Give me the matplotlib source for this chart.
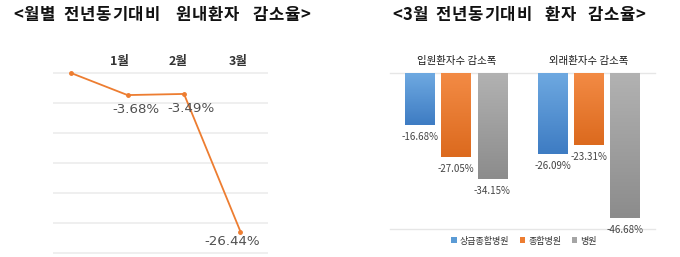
import matplotlib
matplotlib.use("Agg")
import matplotlib.pyplot as plt
import numpy as np
from matplotlib.patches import Patch
from matplotlib.colors import LinearSegmentedColormap

plt.rcParams['font.family'] = ['Noto Sans CJK KR', 'DejaVu Sans']

# Left chart data
line_x_labels = ["", "1월", "2월", "3월"]
line_values = [0.0, -3.68, -3.49, -26.44]
line_labels = ["", "-3.68%", "-3.49%", "-26.44%"]

# Right chart data
groups = ["입원환자수 감소폭", "외래환자수 감소폭"]
series_names = ["상급종합병원", "종합병원", "병원"]
series_values = {
    "상급종합병원": [-16.68, -26.09],
    "종합병원": [-27.05, -23.31],
    "병원": [-34.15, -46.68],
}
series_colors = ["#5B9BD5", "#ED7D31", "#A5A5A5"]
grad_top = ["#6EA9E1", "#F38B45", "#B2B2B2"]
grad_bot = ["#3E7CC3", "#DC6A1E", "#8C8C8C"]

left_title_words = ["<월별", "전년동기대비", "원내환자", "감소율>"]
right_title_words = ["<3월", "전년동기대비", "환자", "감소율>"]

W, H = 680, 257
fig = plt.figure(figsize=(W / 100, H / 100), dpi=100)
fig.patch.set_facecolor("white")

def ax_rect(x0, x1, y0, y1):
    return [x0 / W, 1 - y1 / H, (x1 - x0) / W, (y1 - y0) / H]

def spaced_word(word, x_start, y, size=12):
    # draw a word with wide letter spacing like the reference font
    x = x_start
    for ch in word:
        adv = 16.2 if ord(ch) > 0x1000 else 10.0
        fig.text((x + adv / 2) / W, 1 - y / H, ch, fontsize=size, fontweight="bold",
                 color="#111111", ha="center", va="center")
        x += adv

for word, xp in zip(left_title_words, [13, 63, 175, 252]):
    spaced_word(word, xp, 15)
for word, xp in zip(right_title_words, [392, 435, 544, 587]):
    spaced_word(word, xp, 15)

# ---- Left line chart ----
ax1 = fig.add_axes(ax_rect(53, 268, 70, 256))
xs = list(range(len(line_values)))
ax1.set_xlim(-0.319, 3.487)
ax1.set_ylim(-30.5, 0.5)
for yv in range(0, -31, -5):
    ax1.axhline(yv, color="#EEEEEE", lw=1.3, zorder=0)
ax1.plot(xs, line_values, color="#ED7D31", lw=1.3, marker="o", markersize=2.5,
         zorder=3, clip_on=False)
for s in ax1.spines.values():
    s.set_visible(False)
ax1.set_xticks([])
ax1.set_yticks([])
cat_offsets = [0, -0.15, -0.11, -0.04]
for i, lab in enumerate(line_x_labels):
    if lab:
        ax1.text(i + cat_offsets[i], 1.045, lab, transform=ax1.get_xaxis_transform(),
                 ha="center", va="center", fontsize=9, fontweight="bold", color="#333333")
label_offsets = [(0, 0), (0.15, -2.35), (0.12, -2.5), (-0.14, -1.7)]
for i, lab in enumerate(line_labels):
    if lab:
        dx, dy = label_offsets[i]
        ax1.text(i + dx, line_values[i] + dy, lab, ha="center", va="center",
                 fontsize=9.6, color="#505050", family="DejaVu Sans")

# ---- Right bar chart ----
ax2 = fig.add_axes(ax_rect(390, 655, 73, 228.5))
ax2.axhline(0, color="#E6E6E6", lw=1.0, zorder=0, clip_on=False)
ax2.axhline(-50, color="#E6E6E6", lw=1.0, zorder=0, clip_on=False)
bw = 0.225
pitch = 0.273
for k, name in enumerate(series_names):
    vals = series_values[name]
    pos = [g + (k - 1) * pitch for g in range(len(groups))]
    bars = ax2.bar(pos, vals, width=bw, color=series_colors[k], zorder=2)
    cmap = LinearSegmentedColormap.from_list(f"g{k}", [grad_top[k], grad_bot[k]])
    for b in bars:
        x0 = b.get_x()
        x1 = x0 + b.get_width()
        yb = b.get_y() + b.get_height()
        grad = np.linspace(0, 1, 64).reshape(-1, 1)
        im = ax2.imshow(grad, cmap=cmap, aspect="auto", extent=(x0, x1, yb, 0),
                        origin="upper", zorder=2.5)
        im.set_clip_path(b)
    for p, v in zip(pos, vals):
        ax2.text(p, v - 3.8, f"{v:.2f}%", ha="center", va="center",
                 fontsize=7, color="#444444")
ax2.set_xlim(-0.5, 1.5)
ax2.set_ylim(-50, 0)
for s in ax2.spines.values():
    s.set_visible(False)
ax2.set_xticks([])
ax2.set_yticks([])
for g, lab in enumerate(groups):
    ax2.text(g, 1.08, lab, transform=ax2.get_xaxis_transform(), ha="center",
             va="center", fontsize=7.5, color="#1A1A1A", fontweight="medium")

handles = [Patch(facecolor=c, edgecolor="none") for c in series_colors]
fig.legend(handles, series_names, loc="center", bbox_to_anchor=(524 / W, 1 - 241 / H),
           ncol=3, frameon=False, fontsize=6.5, handlelength=0.6, handleheight=0.6,
           handletextpad=0.3, columnspacing=1.2, labelcolor="#333333")

fig.savefig("out.png", dpi=100, facecolor="white")
